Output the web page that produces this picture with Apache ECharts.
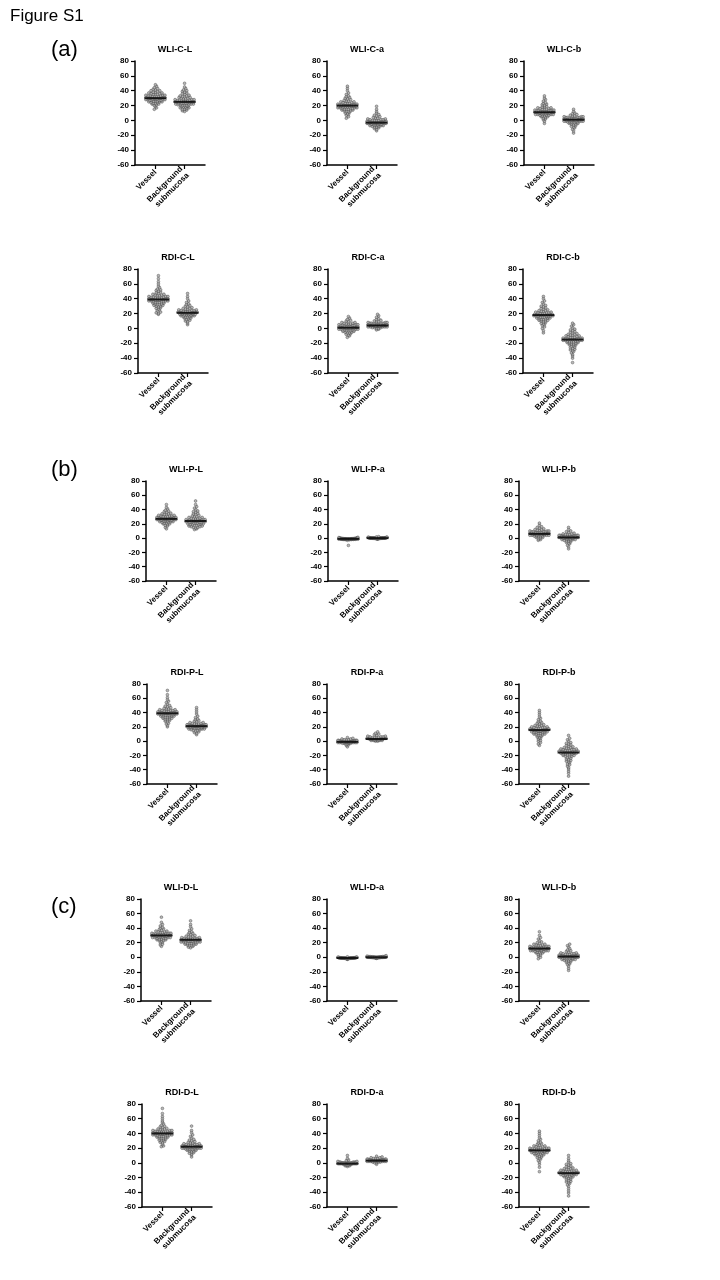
<!DOCTYPE html>
<html><head><meta charset="utf-8">
<script src="https://cdn.jsdelivr.net/npm/echarts@6/dist/echarts.min.js"></script>
<style>html,body{margin:0;padding:0;background:#fff}#c{width:720px;height:1280px}</style>
</head><body><div id="c"></div>
<script>
// ---------- DATA ----------
const categories = ['Vessel', 'Background\nsubmucosa'];
const panelTitles = ['WLI-C-L','WLI-C-a','WLI-C-b','RDI-C-L','RDI-C-a','RDI-C-b',
  'WLI-P-L','WLI-P-a','WLI-P-b','RDI-P-L','RDI-P-a','RDI-P-b',
  'WLI-D-L','WLI-D-a','WLI-D-b','RDI-D-L','RDI-D-a','RDI-D-b'];
const yMin = -60, yMax = 80, yInterval = 20;
const sectionLabels = ['(a)', '(b)', '(c)'];
const figureLabel = 'Figure S1';

const wliCL_vessel = [15,17,19,20,21,22,22,23,23,24,24,25,25,25,26,26,26,27,27,27,27,28,28,28,28,29,29,29,29,29,30,30,30,30,30,30,31,31,31,31,31,32,32,32,32,33,33,33,34,34,34,35,35,35,36,36,37,37,38,38,39,40,40,41,42,43,44,46,48];
const wliCL_background = [12,13,14,15,15,16,17,17,18,18,19,19,20,20,20,21,21,21,22,22,22,23,23,23,23,24,24,24,24,25,25,25,25,25,26,26,26,26,27,27,27,28,28,28,29,29,30,30,31,31,32,32,33,33,34,35,36,37,38,39,40,41,43,45,50];
const wliCa_vessel = [3,5,7,8,9,10,11,12,12,13,13,14,14,15,15,15,16,16,16,17,17,17,17,18,18,18,18,19,19,19,19,19,20,20,20,20,20,21,21,21,21,22,22,22,23,23,23,24,24,25,25,26,26,27,28,29,30,31,32,33,35,37,40,43,46];
const wliCa_background = [-14,-12,-11,-10,-9,-9,-8,-8,-7,-7,-7,-6,-6,-6,-6,-5,-5,-5,-5,-5,-4,-4,-4,-4,-4,-4,-3,-3,-3,-3,-3,-3,-3,-2,-2,-2,-2,-2,-2,-1,-1,-1,-1,-1,0,0,0,0,1,1,1,2,2,3,3,4,5,6,7,8,10,12,15,19];
const wliCb_vessel = [-4,-1,1,2,3,4,5,5,6,6,7,7,7,8,8,8,8,9,9,9,9,10,10,10,10,10,11,11,11,11,11,11,12,12,12,12,12,13,13,13,13,14,14,14,15,15,15,16,16,17,17,18,18,19,20,21,22,23,24,26,28,30,33];
const wliCb_background = [-17,-14,-12,-10,-9,-8,-7,-6,-5,-5,-4,-4,-3,-3,-3,-2,-2,-2,-2,-1,-1,-1,-1,-1,0,0,0,0,0,0,1,1,1,1,1,1,1,2,2,2,2,2,3,3,3,3,3,4,4,4,4,5,5,5,6,6,7,8,9,10,12,15];
const rdiCL_vessel = [19,20,21,22,24,25,26,27,28,29,30,30,31,31,32,32,33,33,34,34,35,35,35,36,36,36,37,37,37,37,38,38,38,38,39,39,39,39,40,40,40,40,40,41,41,41,41,42,42,42,43,43,43,44,44,45,45,46,46,47,48,49,50,51,52,53,55,57,60,63,67,71];
const rdiCL_background = [5,7,9,10,11,12,13,14,14,15,15,16,16,17,17,17,18,18,18,18,19,19,19,19,20,20,20,20,20,21,21,21,21,21,21,22,22,22,22,22,23,23,23,23,24,24,24,25,25,26,26,27,27,28,29,30,31,32,33,35,37,40,43,47];
const rdiCa_vessel = [-12,-10,-9,-8,-7,-6,-6,-5,-5,-4,-4,-3,-3,-3,-2,-2,-2,-2,-1,-1,-1,-1,0,0,0,0,0,1,1,1,1,1,1,2,2,2,2,2,2,3,3,3,3,3,4,4,4,4,5,5,5,6,6,6,7,7,8,8,9,10,11,12,14,16];
const rdiCa_background = [-2,-1,0,0,1,1,1,2,2,2,2,2,3,3,3,3,3,3,3,3,3,4,4,4,4,4,4,4,4,4,4,4,5,5,5,5,5,5,5,5,5,6,6,6,6,6,6,7,7,7,7,8,8,8,9,9,10,11,12,13,15,17,19];
const rdiCb_vessel = [-6,-3,0,2,4,5,6,7,8,9,10,10,11,11,12,12,13,13,14,14,14,15,15,15,16,16,16,17,17,17,17,18,18,18,18,18,19,19,19,19,20,20,20,21,21,21,22,22,23,23,24,24,25,26,27,28,29,30,31,33,35,37,40,43];
const rdiCb_background = [-46,-40,-37,-35,-33,-31,-30,-29,-28,-27,-26,-25,-24,-23,-22,-22,-21,-21,-20,-20,-19,-19,-18,-18,-18,-17,-17,-17,-16,-16,-16,-16,-15,-15,-15,-15,-14,-14,-14,-14,-13,-13,-13,-12,-12,-12,-11,-11,-10,-10,-9,-9,-8,-8,-7,-6,-5,-4,-3,-2,-1,1,3,5,7];

const wliPL_vessel = [13,15,17,18,19,20,20,21,21,22,22,23,23,23,24,24,24,24,25,25,25,25,25,26,26,26,26,26,26,27,27,27,27,27,27,28,28,28,28,28,29,29,29,29,30,30,30,31,31,31,32,32,33,33,34,34,35,36,37,38,39,41,43,47];
const wliPL_background = [12,13,14,15,15,16,16,17,17,18,18,19,19,19,20,20,20,21,21,21,22,22,22,22,23,23,23,23,24,24,24,24,24,25,25,25,25,26,26,26,27,27,27,28,28,29,29,30,30,31,32,33,34,35,36,37,38,40,42,44,47,52];
const wliPa_vessel = [-10.2,-3.1,-2.4,-2.1,-1.9,-1.8,-1.7,-1.6,-1.6,-1.5,-1.5,-1.4,-1.4,-1.4,-1.3,-1.3,-1.3,-1.2,-1.2,-1.2,-1.2,-1.1,-1.1,-1.1,-1.1,-1.0,-1.0,-1.0,-1.0,-1.0,-0.9,-0.9,-0.9,-0.9,-0.9,-0.8,-0.8,-0.8,-0.8,-0.7,-0.7,-0.7,-0.6,-0.6,-0.6,-0.5,-0.5,-0.4,-0.4,-0.3,-0.2,-0.1,0.0,0.2,0.4,0.8,1.2];
const wliPa_background = [-1.3,-1.0,-0.8,-0.7,-0.6,-0.5,-0.5,-0.4,-0.4,-0.3,-0.3,-0.3,-0.2,-0.2,-0.2,-0.2,-0.1,-0.1,-0.1,-0.1,-0.1,0.0,0.0,0.0,0.0,0.0,0.0,0.1,0.1,0.1,0.1,0.1,0.2,0.2,0.2,0.2,0.3,0.3,0.3,0.4,0.4,0.4,0.5,0.5,0.6,0.6,0.7,0.8,0.9,1.0,1.2,1.4,1.7,2.1];
const wliPb_vessel = [-3,-2,-1,0,1,1,2,2,3,3,3,4,4,4,4,4,5,5,5,5,5,5,5,6,6,6,6,6,6,6,6,7,7,7,7,7,7,7,8,8,8,8,8,9,9,9,9,10,10,10,11,11,12,12,13,14,15,16,18,21];
const wliPb_background = [-15,-12,-10,-8,-7,-6,-5,-4,-4,-3,-3,-2,-2,-2,-1,-1,-1,-1,0,0,0,0,0,1,1,1,1,1,1,1,2,2,2,2,2,2,2,2,3,3,3,3,3,3,4,4,4,4,5,5,5,6,6,7,8,9,10,12,15];
const rdiPL_vessel = [20,22,24,25,27,28,29,30,30,31,32,32,33,33,34,34,35,35,35,36,36,36,37,37,37,37,38,38,38,38,39,39,39,39,39,40,40,40,40,40,41,41,41,41,42,42,42,43,43,43,44,44,45,45,46,47,48,49,50,52,54,56,58,61,65,71];
const rdiPL_background = [9,11,12,13,14,15,15,16,16,17,17,17,18,18,18,18,19,19,19,19,19,20,20,20,20,20,21,21,21,21,21,21,22,22,22,22,22,23,23,23,23,24,24,24,25,25,26,26,27,28,29,30,31,33,35,38,41,44,47];
const rdiPa_vessel = [-8,-6,-5,-4,-4,-3,-3,-3,-3,-2,-2,-2,-2,-2,-2,-2,-1,-1,-1,-1,-1,-1,-1,-1,-1,-1,-1,0,0,0,0,0,0,0,0,0,1,1,1,1,1,2,2,2,3,3,4,5];
const rdiPa_background = [0,0,1,1,1,1,2,2,2,2,2,2,2,2,3,3,3,3,3,3,3,3,3,3,3,4,4,4,4,4,4,4,5,5,5,5,6,6,6,7,7,8,9,10,11,13];
const rdiPb_vessel = [-6,-4,-2,0,1,3,4,5,6,7,8,8,9,9,10,10,11,11,12,12,12,13,13,13,14,14,14,14,15,15,15,15,15,16,16,16,16,16,17,17,17,17,18,18,18,19,19,19,20,20,21,21,22,22,23,24,25,26,27,28,30,32,34,37,40,43];
const rdiPb_background = [-49,-45,-42,-39,-37,-35,-33,-32,-30,-29,-28,-27,-26,-25,-24,-23,-22,-21,-21,-20,-20,-19,-19,-18,-18,-18,-17,-17,-17,-16,-16,-16,-16,-15,-15,-15,-15,-14,-14,-14,-14,-13,-13,-13,-12,-12,-12,-11,-11,-10,-10,-9,-9,-8,-7,-6,-5,-4,-3,-2,0,2,4,8];

const wliDL_vessel = [15,17,18,20,21,22,23,23,24,24,25,25,26,26,26,27,27,27,27,28,28,28,28,29,29,29,29,29,30,30,30,30,30,30,31,31,31,31,31,32,32,32,32,33,33,33,34,34,35,35,36,36,37,38,39,40,41,43,45,48,55];
const wliDL_background = [13,14,15,16,16,17,17,18,18,19,19,19,20,20,20,21,21,21,21,22,22,22,22,23,23,23,23,23,24,24,24,24,24,25,25,25,25,26,26,26,27,27,28,28,29,29,30,31,32,33,34,35,37,39,42,45,50];
const wliDa_vessel = [-2.8,-2.3,-2.0,-1.8,-1.7,-1.6,-1.6,-1.5,-1.5,-1.4,-1.4,-1.4,-1.3,-1.3,-1.3,-1.2,-1.2,-1.2,-1.2,-1.1,-1.1,-1.1,-1.1,-1.0,-1.0,-1.0,-1.0,-1.0,-0.9,-0.9,-0.9,-0.9,-0.8,-0.8,-0.8,-0.8,-0.7,-0.7,-0.7,-0.6,-0.6,-0.5,-0.5,-0.4,-0.3,-0.2,-0.1,0.1,0.3,0.6];
const wliDa_background = [-1.5,-1.1,-0.9,-0.7,-0.6,-0.5,-0.4,-0.4,-0.3,-0.3,-0.2,-0.2,-0.2,-0.1,-0.1,-0.1,-0.1,0.0,0.0,0.0,0.0,0.0,0.1,0.1,0.1,0.1,0.1,0.2,0.2,0.2,0.2,0.3,0.3,0.3,0.4,0.4,0.5,0.5,0.6,0.7,0.8,0.9,1.1,1.3,1.6,2.2];
const wliDb_vessel = [-2,0,2,3,4,5,6,6,7,7,8,8,8,9,9,9,9,10,10,10,10,10,11,11,11,11,11,11,12,12,12,12,12,12,13,13,13,13,13,14,14,14,14,15,15,15,16,16,17,17,18,18,19,20,21,23,25,27,30,35];
const wliDb_background = [-18,-15,-12,-10,-9,-8,-7,-6,-5,-5,-4,-4,-3,-3,-3,-2,-2,-2,-1,-1,-1,-1,0,0,0,0,0,1,1,1,1,1,1,2,2,2,2,2,2,3,3,3,3,3,4,4,4,5,5,5,6,6,7,8,9,10,12,14,16,18];
const rdiDL_vessel = [22,23,25,27,28,29,30,31,31,32,33,33,34,34,35,35,36,36,36,37,37,37,38,38,38,38,39,39,39,39,40,40,40,40,40,41,41,41,41,41,42,42,42,42,43,43,43,44,44,44,45,45,46,46,47,48,49,50,51,53,55,57,60,63,67,74];
const rdiDL_background = [8,11,12,13,14,15,16,16,17,17,18,18,18,19,19,19,19,20,20,20,20,20,21,21,21,21,21,22,22,22,22,22,22,23,23,23,23,24,24,24,25,25,25,26,26,27,27,28,29,30,31,32,34,36,38,41,44,50];
const rdiDa_vessel = [-5,-4,-4,-3,-3,-3,-2,-2,-2,-2,-2,-2,-1,-1,-1,-1,-1,-1,-1,-1,-1,-1,-1,-1,0,0,0,0,0,0,0,0,0,1,1,1,1,1,2,2,3,4,6,10];
const rdiDa_background = [-2,0,0,1,1,1,2,2,2,2,2,2,3,3,3,3,3,3,3,3,3,3,4,4,4,4,4,4,4,5,5,5,5,6,6,6,7,7,8,9];
const rdiDb_vessel = [-12,-6,-2,1,3,5,6,7,8,9,10,10,11,11,12,12,13,13,13,14,14,14,15,15,15,15,16,16,16,16,16,17,17,17,17,17,18,18,18,18,19,19,19,20,20,20,21,21,22,22,23,23,24,25,26,27,28,30,32,34,37,40,43];
const rdiDb_background = [-45,-41,-38,-35,-32,-30,-28,-27,-26,-25,-24,-23,-22,-21,-20,-20,-19,-19,-18,-18,-17,-17,-17,-16,-16,-16,-15,-15,-15,-15,-14,-14,-14,-14,-13,-13,-13,-13,-12,-12,-12,-11,-11,-11,-10,-10,-9,-9,-8,-8,-7,-6,-5,-4,-3,-2,-1,1,3,6,10];

const panelData = [
  [wliCL_vessel, wliCL_background], [wliCa_vessel, wliCa_background], [wliCb_vessel, wliCb_background],
  [rdiCL_vessel, rdiCL_background], [rdiCa_vessel, rdiCa_background], [rdiCb_vessel, rdiCb_background],
  [wliPL_vessel, wliPL_background], [wliPa_vessel, wliPa_background], [wliPb_vessel, wliPb_background],
  [rdiPL_vessel, rdiPL_background], [rdiPa_vessel, rdiPa_background], [rdiPb_vessel, rdiPb_background],
  [wliDL_vessel, wliDL_background], [wliDa_vessel, wliDa_background], [wliDb_vessel, wliDb_background],
  [rdiDL_vessel, rdiDL_background], [rdiDa_vessel, rdiDa_background], [rdiDb_vessel, rdiDb_background]
];

// ---------- LAYOUT ----------
const rowTops = [61, 269, 481, 684, 899, 1104];
const rowHeights = [104, 104, 100, 100, 102, 103];
const rowLefts = [[135, 327, 524], [138, 328, 523], [146, 328, 519], [147, 327, 519], [141, 327, 519], [142, 327, 519]];
const gridW = 70;
const FONT = 'Liberation Sans, Arial, sans-serif';
const SYM = 2.8, STEP = 2.2, MAXW = 19;

function median(a) {
  const s = a.slice().sort((x, y) => x - y);
  const n = s.length;
  return n % 2 ? s[(n - 1) / 2] : (s[n / 2 - 1] + s[n / 2]) / 2;
}

function swarm(values, cat, h) {
  const unitsPerPx = (yMax - yMin) / h;
  const sorted = values.slice().sort((a, b) => a - b);
  const bins = new Map();
  sorted.forEach(v => {
    const k = Math.floor((v - yMin) / unitsPerPx / STEP);
    if (!bins.has(k)) bins.set(k, []);
    bins.get(k).push(v);
  });
  const out = [];
  bins.forEach(arr => {
    const n = arr.length;
    const d = n > 1 ? Math.min(STEP, MAXW / (n - 1)) : 0;
    const slots = [];
    for (let i = 0; i < n; i++) slots.push((i - (n - 1) / 2) * d);
    slots.sort((a, b) => Math.abs(a) - Math.abs(b));
    arr.forEach((v, i) => out.push({ value: [cat, v], symbolOffset: [slots[i], 0] }));
  });
  return out;
}

const grids = [], xAxes = [], yAxes = [], series = [], titles = [];
for (let p = 0; p < 18; p++) {
  const r = Math.floor(p / 3), c = p % 3;
  const left = rowLefts[r][c], top = rowTops[r], h = rowHeights[r];
  grids.push({ left: left, top: top, width: gridW, height: h, containLabel: false });
  xAxes.push({
    type: 'value', gridIndex: p, min: 0.3, max: 2.7,
    splitLine: { show: false },
    axisLine: { show: true, onZero: false, lineStyle: { color: '#000', width: 1.5 } },
    axisTick: { show: true, customValues: [1, 2], length: 4, lineStyle: { color: '#000', width: 1.2 } },
    axisLabel: {
      customValues: [1, 2], rotate: 45, margin: 6,
      formatter: v => categories[Math.round(v) - 1] || '',
      fontFamily: FONT, fontWeight: 'bold', fontSize: 8, color: '#000', lineHeight: 9
    }
  });
  yAxes.push({
    type: 'value', gridIndex: p, min: yMin, max: yMax, interval: yInterval,
    splitLine: { show: false },
    axisLine: { show: true, lineStyle: { color: '#000', width: 1.5 } },
    axisTick: { show: true, length: 4, lineStyle: { color: '#000', width: 1.2 } },
    axisLabel: { margin: 6, fontFamily: FONT, fontWeight: 'bold', fontSize: 8, color: '#000' }
  });
  titles.push({
    text: panelTitles[p], left: left + 35, top: top - 21, textAlign: 'center',
    textStyle: { fontFamily: FONT, fontWeight: 'bold', fontSize: 9, color: '#000' }
  });
  const [vs, bg] = panelData[p];
  series.push({
    type: 'scatter', xAxisIndex: p, yAxisIndex: p, silent: true,
    symbol: 'circle', symbolSize: SYM,
    itemStyle: { color: '#a6a6a6', borderColor: '#3a3a3a', borderWidth: 0.5 },
    data: swarm(vs, 1, h).concat(swarm(bg, 2, h)), z: 2
  });
  series.push({
    type: 'scatter', xAxisIndex: p, yAxisIndex: p, silent: true,
    symbol: 'rect', symbolSize: [22, 2],
    itemStyle: { color: '#000' },
    data: [[1, median(vs)], [2, median(bg)]], z: 5
  });
}

const graphics = [
  { type: 'text', left: 10, top: 8, style: { text: figureLabel, font: '17px ' + FONT, fill: '#000' } },
  { type: 'text', left: 51, top: 39, style: { text: sectionLabels[0], font: '22px ' + FONT, fill: '#000' } },
  { type: 'text', left: 51, top: 459, style: { text: sectionLabels[1], font: '22px ' + FONT, fill: '#000' } },
  { type: 'text', left: 51, top: 896, style: { text: sectionLabels[2], font: '22px ' + FONT, fill: '#000' } }
];

const chart = echarts.init(document.getElementById('c'), null, { renderer: 'canvas' });
chart.setOption({
  animation: false,
  backgroundColor: '#fff',
  title: titles,
  grid: grids,
  xAxis: xAxes,
  yAxis: yAxes,
  series: series,
  graphic: graphics
});
</script>
</body></html>
